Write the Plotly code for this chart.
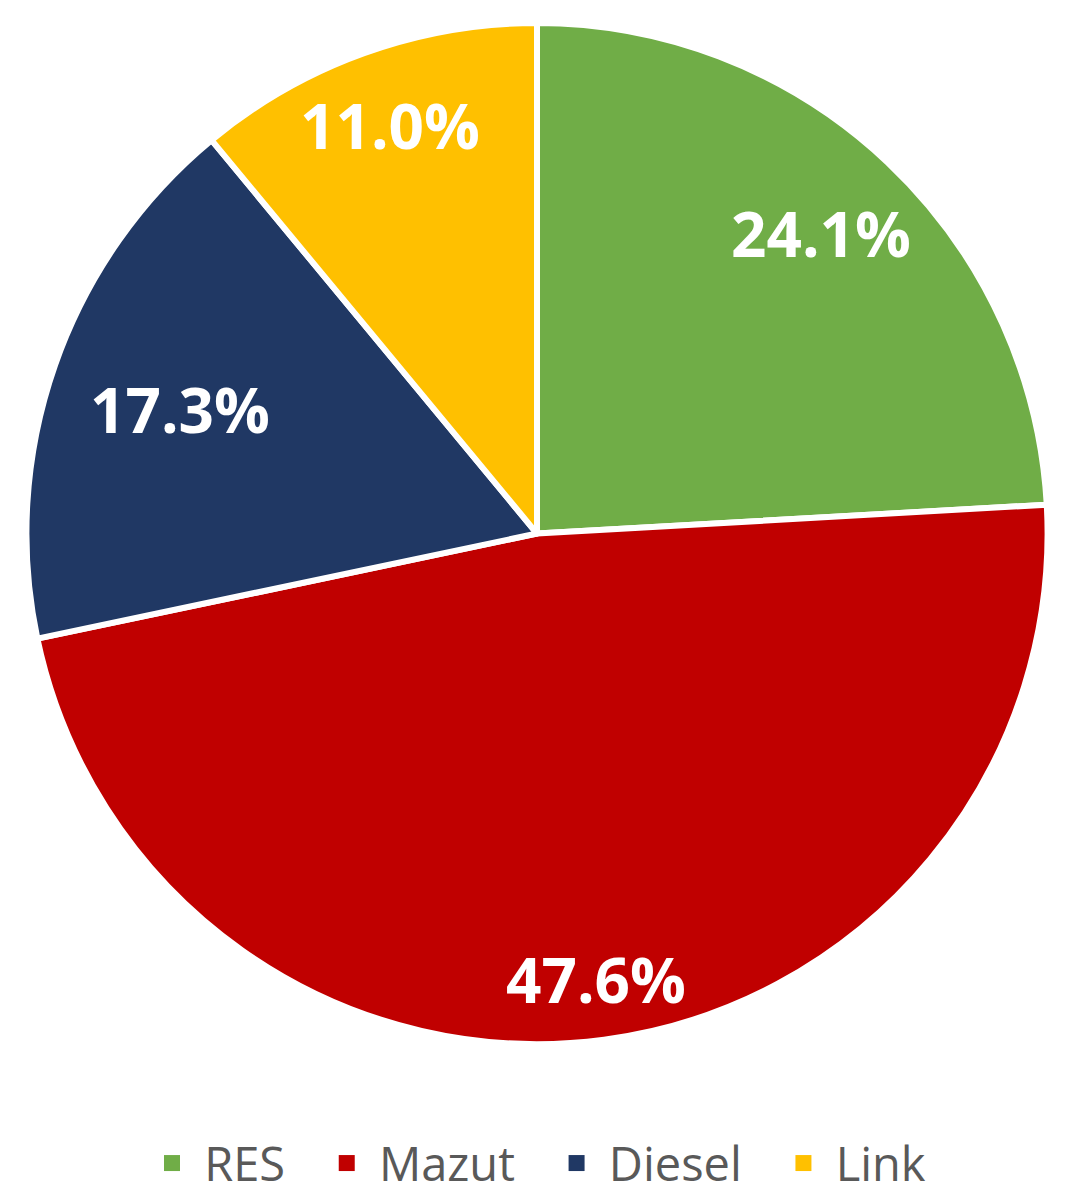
import math
import plotly.graph_objects as go

categories = ["RES", "Mazut", "Diesel", "Link"]
shares = [24.1, 47.6, 17.3, 11.0]
colors = ["#70AD47", "#C00000", "#203864", "#FFC000"]
label_radius = [0.81, 0.88, 0.74, 0.85]  # label placement (fraction of radius)

W, H = 1083, 1201
cx, cy, r = 537, 534, 511

fig = go.Figure()
fig.add_trace(go.Pie(
    labels=categories,
    values=shares,
    sort=False,
    direction="clockwise",
    rotation=0,
    marker=dict(colors=colors, line=dict(color="white", width=6)),
    textinfo="none",
    hoverinfo="label+percent",
    showlegend=False,
    domain=dict(x=[(cx - r) / W, (cx + r) / W], y=[1 - (cy + r) / H, 1 - (cy - r) / H]),
))

# legend entries
NB = "\u00a0"
for i, (name, col) in enumerate(zip(categories, colors)):
    pad = NB * 3 if i < len(categories) - 1 else ""
    fig.add_trace(go.Scatter(x=[None], y=[None], mode="markers", name=NB + name + pad,
                             marker=dict(symbol="square", size=19, color=col)))

# percentage labels placed at slice mid-angles
total = sum(shares)
cum = 0.0
for v, f in zip(shares, label_radius):
    mid = (cum + v / 2) / total * 2 * math.pi
    cum += v
    px = cx + f * r * math.sin(mid)
    py = cy - f * r * math.cos(mid)
    fig.add_annotation(x=px / W, y=1 - py / H, xref="paper", yref="paper",
                       xanchor="center", yanchor="middle",
                       text=f"{v:.1f}%", showarrow=False,
                       font=dict(family="Open Sans", size=62, color="white", weight="bold"))

fig.update_layout(
    width=W, height=H,
    margin=dict(l=0, r=0, t=0, b=0),
    paper_bgcolor="white", plot_bgcolor="white",
    xaxis=dict(visible=False), yaxis=dict(visible=False),
    showlegend=True,
    legend=dict(orientation="h", x=0.5, xanchor="center", y=1 - 1164 / H, yanchor="middle",
                font=dict(family="Open Sans", size=47, color="#595959"),
                itemwidth=30, tracegroupgap=0),
)

fig.write_html("out.html", config={"displayModeBar": False},
               post_script="document.body.style.margin='0';")
